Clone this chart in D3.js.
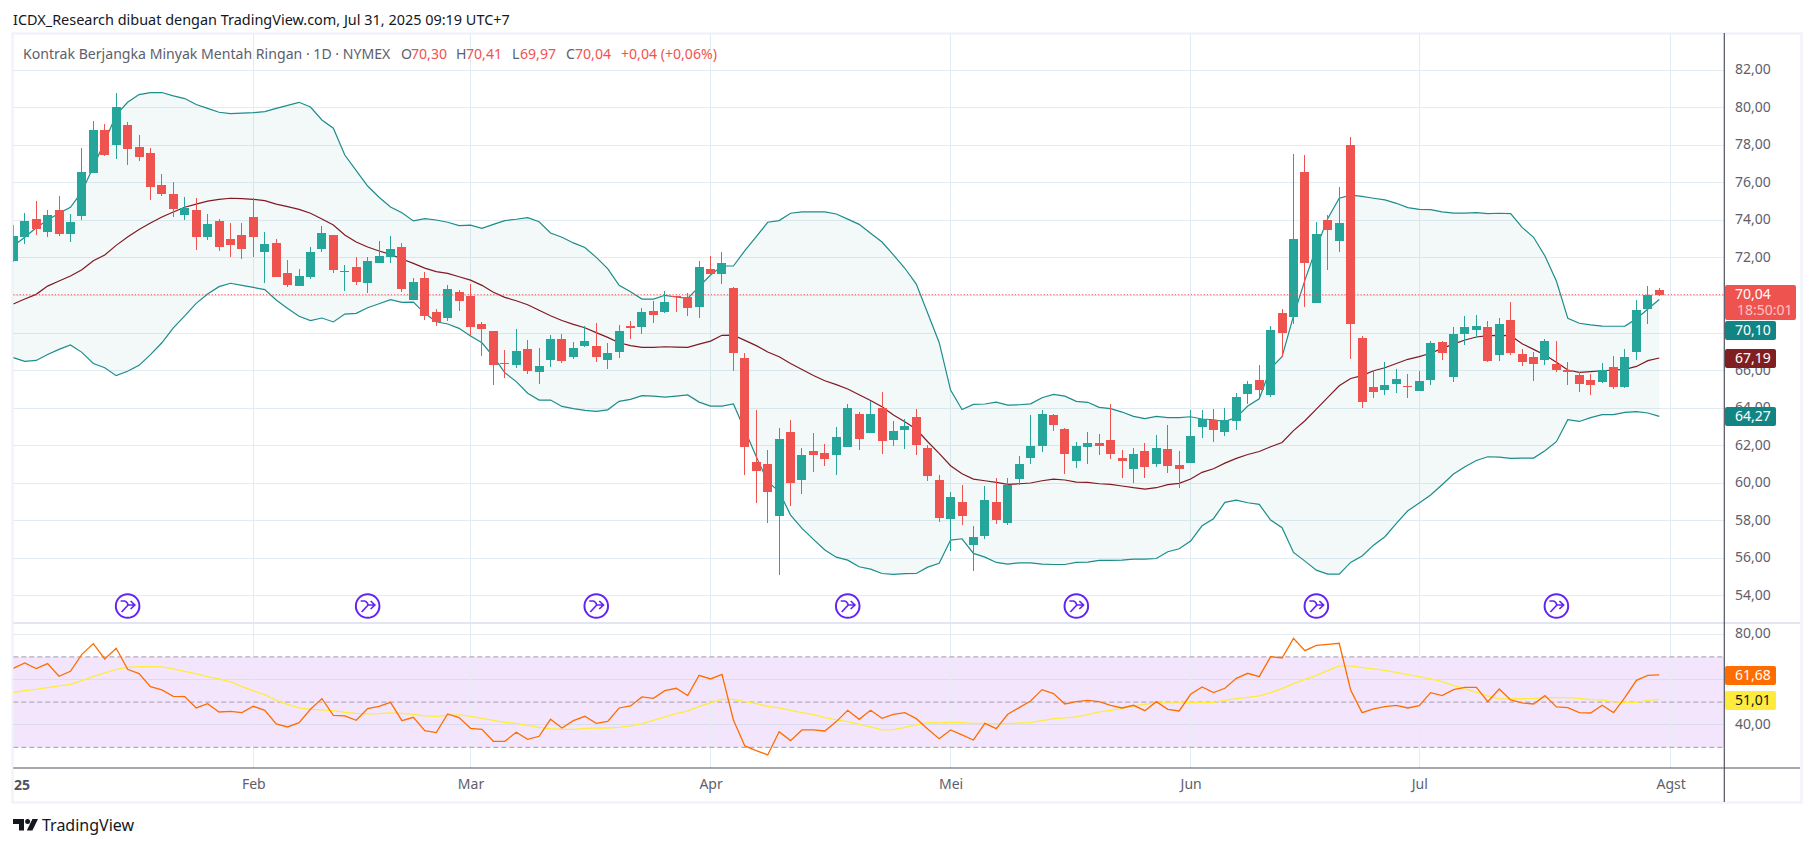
<!DOCTYPE html>
<html><head><meta charset="utf-8">
<script src="https://cdnjs.cloudflare.com/ajax/libs/d3/7.8.5/d3.min.js"></script>
<style>html,body{margin:0;padding:0;background:#fff}svg{display:block}text{font-family:"Noto Sans",sans-serif}</style>
</head><body><svg id="c" width="1814" height="847"></svg>
<script>
const candleOpen=[71.84,73.12,74.07,73.38,74.55,73.28,74.23,76.53,78.82,78.02,79.08,77.91,77.59,75.89,75.41,74.29,74.55,73.12,73.97,73.01,73.22,74.18,72.32,72.80,71.20,70.50,70.98,72.48,73.22,71.25,71.52,70.66,71.73,72.05,72.58,69.76,70.93,69.12,68.80,70.18,69.97,68.48,68.11,66.40,66.30,67.15,65.92,66.56,67.68,66.72,67.31,67.31,66.56,66.99,68.37,68.32,69.17,69.12,69.97,69.92,69.39,71.41,71.14,70.40,66.67,61.13,61.02,58.25,62.72,60.17,61.71,61.61,61.50,61.93,63.68,62.67,64.00,62.30,62.83,63.52,61.87,60.17,58.09,59.00,56.70,57.18,59.00,57.88,60.22,61.34,61.98,63.63,62.88,61.18,61.93,62.14,62.30,61.34,60.75,61.71,61.02,61.82,60.97,61.07,62.99,63.36,62.72,63.31,64.75,65.50,64.70,69.07,68.85,76.58,69.60,74.02,72.90,78.00,67.73,65.12,64.96,65.28,65.18,64.91,65.50,67.52,65.66,67.95,68.16,68.32,66.82,68.69,66.88,66.72,66.56,66.35,66.03,65.76,65.50,65.39,66.19,65.12,66.99,69.28,70.30];
const candleClose=[73.17,73.97,73.54,74.29,73.28,73.91,76.58,78.82,77.48,80.04,77.80,77.38,75.78,75.41,74.61,74.66,73.12,73.81,72.58,72.69,72.48,73.12,72.74,70.98,70.56,71.04,72.32,73.33,71.36,71.30,70.72,71.84,72.10,72.48,70.34,70.72,68.91,68.59,70.34,69.71,68.32,68.21,66.30,66.35,67.04,65.98,66.24,67.68,66.51,67.20,67.57,66.72,66.93,68.11,68.28,69.12,68.96,69.65,69.90,69.33,71.52,71.14,71.73,66.93,61.93,60.65,59.53,62.35,60.01,61.50,61.50,61.29,62.46,64.00,62.35,63.68,62.25,62.78,63.04,62.03,60.38,58.14,59.26,58.25,57.13,59.10,58.04,59.90,61.02,61.98,63.68,63.10,61.55,61.98,62.14,61.98,61.55,61.18,61.55,60.86,61.87,60.91,60.75,62.51,63.42,62.83,63.36,64.59,65.28,64.96,68.16,68.00,73.01,71.75,73.28,73.48,73.86,68.48,64.32,64.86,65.23,65.55,65.12,65.44,67.47,66.93,67.95,68.32,68.37,66.51,68.48,66.93,66.45,66.35,67.57,66.03,65.92,65.28,65.23,66.03,65.12,66.72,69.23,70.02,70.04];
const candleHigh=[73.75,74.38,75.03,74.55,75.30,74.34,77.86,79.30,79.14,80.79,79.24,78.55,77.86,76.47,76.05,75.25,75.19,74.34,74.07,73.86,73.86,75.19,73.38,73.01,71.89,71.41,72.58,73.70,73.22,71.62,72.05,72.05,72.90,73.17,72.80,70.93,71.25,69.28,70.56,70.29,70.61,68.58,68.11,67.09,68.21,67.63,67.20,67.89,67.95,67.52,68.37,68.53,67.47,68.43,68.64,69.33,69.71,70.24,69.97,70.13,71.84,72.10,72.32,70.45,66.93,63.90,61.77,62.94,63.36,61.87,62.67,62.09,62.99,64.21,63.79,64.38,64.86,63.31,63.42,63.95,62.03,60.43,59.53,59.90,57.72,59.85,60.27,60.27,61.45,63.63,63.90,63.68,62.93,62.19,62.72,62.62,64.22,61.77,61.87,62.14,62.56,63.10,61.71,63.90,63.90,63.95,64.00,64.80,65.44,66.29,68.37,69.28,77.55,77.48,73.91,74.29,75.78,78.44,67.84,66.03,66.45,66.08,65.82,65.97,67.57,67.57,68.32,68.91,68.96,68.64,68.80,69.65,67.15,66.99,67.68,67.57,66.45,65.92,65.82,66.40,66.77,67.15,69.76,70.50,70.41];
const candleLow=[71.80,72.74,73.22,73.12,73.17,72.85,74.02,76.50,77.43,77.27,76.95,77.17,75.09,75.30,74.18,74.02,72.42,72.96,72.37,72.05,71.94,72.05,70.66,70.98,70.45,70.50,70.88,72.32,71.20,70.24,70.56,70.13,71.73,71.73,70.18,69.76,68.69,68.37,68.64,69.17,67.84,66.77,65.23,65.60,66.14,65.82,65.28,66.19,66.40,66.62,67.25,66.45,66.08,66.67,67.68,67.95,68.53,69.06,69.12,68.91,68.80,71.14,70.61,65.98,60.43,58.94,57.88,55.10,58.78,59.42,60.59,60.91,60.43,61.93,61.77,62.67,61.55,61.98,61.82,61.50,60.11,57.93,56.38,57.77,55.32,57.02,57.82,57.77,59.90,61.02,61.66,62.78,60.49,60.81,61.02,61.50,61.29,60.27,60.01,60.27,60.86,60.54,59.74,61.07,62.40,62.19,62.51,62.83,64.21,64.59,64.59,66.72,68.48,69.39,69.60,71.36,72.32,66.61,64.00,64.54,64.70,64.80,64.54,64.91,65.23,66.56,65.39,67.36,67.79,66.45,66.51,66.83,66.24,65.44,66.29,65.92,65.23,64.86,64.70,65.34,65.02,65.07,66.56,68.48,69.97];
const bbUpper=[72.64,73.10,73.61,74.02,74.38,74.70,75.53,76.86,78.20,79.62,80.29,80.70,80.81,80.81,80.63,80.49,80.17,79.97,79.76,79.69,79.71,79.74,79.79,79.97,80.13,80.29,80.04,79.35,78.91,77.48,76.65,75.83,75.23,74.71,74.41,73.97,74.09,74.02,73.90,73.72,73.75,73.58,73.79,73.99,74.06,74.15,73.93,73.33,73.10,72.80,72.56,72.03,71.43,70.54,70.20,69.81,69.81,70.01,69.92,69.85,70.47,71.09,71.57,71.57,72.39,73.13,73.90,73.99,74.38,74.45,74.45,74.45,74.34,74.07,73.79,73.31,72.85,72.16,71.45,70.61,69.05,67.50,64.96,63.93,64.20,64.22,64.32,64.16,64.18,64.23,64.55,64.73,64.64,64.36,64.31,64.04,63.97,63.79,63.56,63.44,63.56,63.49,63.49,63.54,63.42,63.38,63.28,63.51,64.11,64.50,66.12,66.74,68.91,70.82,72.55,74.10,75.18,75.35,75.28,75.18,75.09,74.91,74.68,74.59,74.57,74.45,74.39,74.39,74.41,74.36,74.38,74.36,73.63,73.10,72.10,70.77,68.78,68.52,68.43,68.37,68.36,68.37,68.76,69.28,69.79];
const bbBasis=[69.55,69.81,70.06,70.50,70.77,71.04,71.37,71.85,72.16,72.67,73.12,73.52,73.86,74.18,74.45,74.70,74.87,75.03,75.12,75.18,75.16,75.12,75.05,74.87,74.73,74.59,74.38,74.07,73.75,73.22,72.85,72.58,72.37,72.19,71.94,71.71,71.46,71.27,71.18,71.00,70.82,70.54,70.17,69.90,69.72,69.51,69.21,68.92,68.67,68.46,68.28,68.02,67.77,67.48,67.33,67.24,67.24,67.27,67.25,67.24,67.41,67.57,67.88,67.89,67.61,67.33,66.99,66.74,66.38,66.06,65.74,65.46,65.25,65.02,64.71,64.41,64.07,63.63,63.28,62.87,62.21,61.59,60.93,60.50,60.22,60.13,60.04,59.94,59.97,60.01,60.13,60.22,60.17,60.06,60.04,59.97,59.94,59.85,59.76,59.69,59.76,59.92,59.99,60.22,60.58,60.77,61.07,61.32,61.53,61.69,61.94,62.17,62.80,63.33,63.95,64.57,65.19,65.58,65.73,65.99,66.15,66.38,66.60,66.74,66.92,67.18,67.41,67.63,67.79,67.86,67.88,67.86,67.43,67.13,66.83,66.44,66.03,65.90,65.94,65.99,66.03,66.06,66.22,66.53,66.67];
const bbLower=[66.69,66.49,66.54,66.86,67.13,67.36,66.97,66.38,66.15,65.73,65.96,66.28,66.85,67.48,68.27,68.91,69.58,70.08,70.47,70.65,70.54,70.43,70.31,69.76,69.31,68.89,68.66,68.80,68.59,69.01,69.05,69.35,69.56,69.78,69.63,69.65,69.05,68.60,68.48,68.25,67.84,67.48,66.74,65.89,65.41,64.79,64.43,64.43,64.09,63.97,63.88,63.83,63.91,64.36,64.47,64.66,64.64,64.59,64.64,64.70,64.32,64.11,64.11,64.22,62.83,61.41,60.08,59.55,58.30,57.59,57.01,56.44,56.06,55.90,55.55,55.42,55.19,55.14,55.18,55.19,55.53,55.73,56.97,57.04,56.26,56.06,55.78,55.69,55.76,55.76,55.69,55.67,55.67,55.78,55.80,55.89,55.89,55.90,55.96,55.96,55.99,56.35,56.51,56.92,57.73,58.11,58.98,59.10,58.96,58.87,58.04,57.63,56.31,55.85,55.37,55.16,55.16,55.78,56.12,56.70,57.15,57.86,58.53,58.94,59.37,59.92,60.49,60.88,61.21,61.41,61.39,61.32,61.34,61.34,61.73,62.21,63.38,63.29,63.49,63.65,63.65,63.77,63.81,63.74,63.56];
const rsiValues=[64.96,67.32,64.81,67.02,61.42,63.63,71.15,75.87,69.09,73.81,64.51,62.60,56.84,55.37,52.57,52.42,47.40,49.32,45.63,45.93,45.34,48.14,46.37,40.32,39.00,40.91,46.81,51.53,44.16,43.86,41.95,47.11,48.14,49.91,41.80,43.27,37.37,36.49,44.75,43.13,38.41,37.96,32.65,32.65,36.64,33.54,34.87,42.39,38.55,41.80,43.72,40.62,41.50,47.40,48.29,52.27,51.68,55.07,56.11,52.86,61.86,60.24,62.30,42.09,30.59,28.53,26.61,36.93,32.95,37.67,37.67,37.23,41.36,46.37,42.39,46.37,42.83,44.60,45.34,42.68,38.11,33.83,37.67,35.46,33.24,40.62,38.26,44.60,47.55,50.50,55.52,53.75,49.17,50.21,50.80,50.21,48.58,47.40,48.58,46.22,50.21,46.81,46.08,53.45,56.70,54.19,56.11,60.53,62.74,61.27,70.12,69.53,78.23,72.77,75.13,75.58,76.02,55.37,45.34,46.96,47.99,48.58,47.40,48.44,54.19,52.86,55.52,56.55,56.55,50.21,55.81,50.94,49.62,49.17,52.86,47.85,47.55,45.34,45.19,48.58,45.34,52.12,59.65,61.86,62.01];
const rsiMA=[54.19,55.07,55.66,56.40,57.14,57.88,59.50,61.42,62.89,64.51,65.40,65.69,65.69,65.55,64.66,63.63,62.45,61.27,60.24,58.91,56.84,54.93,53.30,50.80,49.03,47.40,46.81,46.52,46.22,45.49,45.04,44.75,44.90,45.19,45.04,44.60,43.86,43.72,44.16,44.31,43.72,42.83,41.95,41.06,40.62,39.73,38.85,38.26,37.96,37.96,38.41,38.55,38.55,38.85,39.44,40.47,41.95,43.42,44.90,46.08,48.14,49.62,51.24,51.24,50.21,49.32,48.14,47.40,46.37,45.34,44.45,43.13,42.09,41.36,40.18,39.00,37.67,37.82,38.85,39.88,40.91,40.77,41.06,40.91,40.62,40.62,40.47,40.47,40.77,40.91,41.80,42.68,42.98,43.42,44.45,45.63,46.37,47.26,48.29,49.03,49.76,49.62,49.62,49.91,49.76,49.91,50.80,51.53,52.12,52.71,54.19,55.96,58.17,60.09,61.86,63.92,65.99,65.99,65.25,64.66,64.07,63.19,62.15,61.27,60.24,59.06,57.43,55.96,54.34,52.71,51.39,51.39,51.53,51.68,51.98,51.98,51.98,51.68,51.09,50.94,50.06,49.76,49.91,50.80,51.24];
const priceTicks=[54,56,58,60,62,64,66,68,70,72,74,76,78,80,82];
const priceLabelTicks=[54,56,58,60,62,64,66,72,74,76,78,80,82];
const rsiTicks=[40,80];
const rsiGrid=[40,60,80];
const rsiDashed=[30,50,70];
const monthIndex=[21,40,61,82,103,123,145];
const monthLabels=["Feb","Mar","Apr","Mei","Jun","Jul","Agst"];
const dividendIndex=[10,31,51,73,93,114,135];
const lastClose=70.04;

const W=1814,H=847,L=13.3,R=1724.3,T=33,Sep=623,B=768;
const svg=d3.select("#c");
const x=d3.scaleLinear().domain([0,145]).range([13.3,1670.7]);
const y=d3.scaleLinear().domain([78,56]).range([145.3,558.3]);
const yr=d3.scaleLinear().domain([80,30]).range([634.3,747.3]);
const fmt=v=>d3.format(".2f")(v).replace(".",",");
const idx=d3.range(candleOpen.length);
const UP="#26a69a",DN="#ef5350",BB="#1b8d8a",GRID="#e3ecf2",AX="#50535e",TXT="#5d606b";

const defs=svg.append("defs");
defs.append("clipPath").attr("id","pc").append("rect").attr("x",L).attr("y",T).attr("width",R-L).attr("height",Sep-T);
defs.append("clipPath").attr("id","rc").append("rect").attr("x",L).attr("y",Sep).attr("width",R-L).attr("height",B-Sep);

svg.append("rect").attr("x",12.5).attr("y",33.5).attr("width",1789).attr("height",769).attr("fill","none").attr("stroke","#f0f3fa").attr("stroke-width",2.4);

// RSI backdrop
svg.append("rect").attr("x",L).attr("width",R-L).attr("y",yr(70)).attr("height",yr(30)-yr(70)).attr("fill","#f3e6fc");

// grid
const g=svg.append("g").attr("stroke",GRID).attr("stroke-width",1).attr("shape-rendering","crispEdges");
g.selectAll(".h").data(priceTicks).join("line").attr("x1",L).attr("x2",R).attr("y1",d=>y(d)).attr("y2",d=>y(d));
g.selectAll(".r").data(rsiGrid).join("line").attr("x1",L).attr("x2",R).attr("y1",d=>yr(d)).attr("y2",d=>yr(d)).attr("stroke",d=>d===80?GRID:"#dcdcf0");
g.selectAll(".v").data(monthIndex).join("line").attr("y1",T).attr("y2",B).attr("x1",d=>x(d)).attr("x2",d=>x(d));

// separator
svg.append("line").attr("x1",L).attr("x2",1800).attr("y1",Sep).attr("y2",Sep).attr("stroke","#e3e6ee").attr("stroke-width",2);

// Bollinger
const p=svg.append("g").attr("clip-path","url(#pc)");
p.append("path").datum(idx).attr("fill","#1b8d8a").attr("fill-opacity",.05)
 .attr("d",d3.area().x(i=>x(i)).y0(i=>y(bbLower[i])).y1(i=>y(bbUpper[i])));
const ln=a=>d3.line().x(i=>x(i)).y(i=>y(a[i]));
[[bbUpper,BB],[bbLower,BB],[bbBasis,"#801922"]].forEach(([a,c])=>{
  p.append("path").datum(idx).attr("fill","none").attr("stroke",c).attr("stroke-width",1.2).attr("d",ln(a));
});

// last price line
svg.append("line").attr("x1",L).attr("x2",R).attr("y1",y(lastClose)).attr("y2",y(lastClose)).attr("stroke",DN).attr("stroke-width",1).attr("stroke-dasharray","1.2 2");

// candles
const col=i=>candleClose[i]>=candleOpen[i]?UP:DN;
const cg=p.append("g").attr("shape-rendering","crispEdges");
cg.selectAll(".w").data(idx).join("line").attr("x1",i=>x(i)).attr("x2",i=>x(i))
  .attr("y1",i=>y(candleHigh[i])).attr("y2",i=>y(candleLow[i])).attr("stroke",col).attr("stroke-width",1);
cg.selectAll(".b").data(idx).join("rect").attr("x",i=>x(i)-4.5).attr("width",9)
  .attr("y",i=>y(Math.max(candleOpen[i],candleClose[i])))
  .attr("height",i=>Math.max(1,Math.abs(y(candleOpen[i])-y(candleClose[i])))).attr("fill",col);

// markers
const mk=svg.append("g").selectAll("g").data(dividendIndex).join("g").attr("transform",d=>`translate(${x(d)},606)`);
mk.append("circle").attr("r",11.8).attr("fill","#fff").attr("stroke","#6423f5").attr("stroke-width",2);
mk.append("path").attr("fill","none").attr("stroke","#6423f5").attr("stroke-width",1.7)
  .attr("d","M-7 -5 L-3 -5 Q-0.5 -4.5 0.5 -1 H7 M3 -5 L7.2 -1 L3 3 M-6 6 L0.5 -1");

// RSI
const r=svg.append("g").attr("clip-path","url(#rc)");
r.selectAll(".d").data(rsiDashed).join("line").attr("x1",L).attr("x2",R).attr("y1",d=>yr(d)).attr("y2",d=>yr(d))
 .attr("stroke","#a59aae").attr("stroke-dasharray","5 3").attr("stroke-width",1);
r.append("path").datum(idx).attr("fill","none").attr("stroke","#ffeb3b").attr("stroke-width",1.3).attr("d",d3.line().x(i=>x(i)).y(i=>yr(rsiMA[i])));
r.append("path").datum(idx).attr("fill","none").attr("stroke","#ff6d00").attr("stroke-width",1.3).attr("d",d3.line().x(i=>x(i)).y(i=>yr(rsiValues[i])));

// axes frame
svg.append("line").attr("x1",R).attr("x2",R).attr("y1",T).attr("y2",802).attr("stroke",AX).attr("stroke-width",1.2);
svg.append("line").attr("x1",L).attr("x2",1800).attr("y1",B).attr("y2",B).attr("stroke",AX).attr("stroke-width",1.2);

// axis labels via d3 axes
const styleAxis=s=>{s.select(".domain").remove();s.selectAll(".tick line").remove();s.selectAll("text").attr("fill",TXT).style("font-size","14px");};
svg.append("g").attr("transform","translate(1726,-1)").call(d3.axisRight(y).tickValues(priceLabelTicks).tickFormat(fmt).tickSize(0).tickPadding(9)).call(styleAxis);
svg.append("g").attr("transform","translate(1726,-1)").call(d3.axisRight(yr).tickValues(rsiTicks).tickFormat(fmt).tickSize(0).tickPadding(9)).call(styleAxis);
svg.append("g").attr("transform","translate(0,776)").call(d3.axisBottom(x).tickValues(monthIndex).tickFormat((d,i)=>monthLabels[i]).tickSize(0).tickPadding(3)).call(styleAxis);
svg.append("text").attr("x",14).attr("y",790).attr("fill",AX).attr("font-size",14).attr("font-weight",700).text("25");

// badges
const badges=[[1725,285,71,35,DN],[1725,321,51,19,"#138484"],[1725,349,51,19,"#801f22"],[1725,407,51,19,"#138484"],[1725,666,51,19,"#ff6d00"],[1725,691,51,19,"#ffeb3b"]];
svg.append("g").selectAll("rect").data(badges).join("rect").attr("x",d=>d[0]).attr("y",d=>d[1]).attr("width",d=>d[2]).attr("height",d=>d[3]).attr("rx",2).attr("fill",d=>d[4]);
const bt=[["70,04",1735,299,"#fff"],["18:50:01",1737,315,"#fbc4c2"],["70,10",1735,335,"#fff"],["67,19",1735,363,"#fff"],["64,27",1735,421,"#fff"],["61,68",1735,680,"#fff"],["51,01",1735,705,"#131722"]];
svg.append("g").selectAll("text").data(bt).join("text").attr("x",d=>d[1]).attr("y",d=>d[2]).attr("fill",d=>d[3]).attr("font-size",14).text(d=>d[0]);

// header texts
svg.append("text").attr("x",13).attr("y",25).attr("fill","#131722").attr("font-size",14.45).text("ICDX_Research dibuat dengan TradingView.com, Jul 31, 2025 09:19 UTC+7");
const hdr=[["Kontrak Berjangka Minyak Mentah Ringan · 1D · NYMEX",23,TXT],["O",401,TXT],["70,30",411,DN],["H",456,TXT],["70,41",466,DN],["L",512,TXT],["69,97",520,DN],["C",566,TXT],["70,04",575,DN],["+0,04 (+0,06%)",621,DN]];
svg.append("g").selectAll("text").data(hdr).join("text").attr("x",d=>d[1]).attr("y",59).attr("fill",d=>d[2]).attr("font-size",14.1).text(d=>d[0]);

// logo
const lg=svg.append("g").attr("fill","#131722");
lg.append("path").attr("d","M13 819h11v11.5h-5v-6.5h-6z");
lg.append("circle").attr("cx",27.6).attr("cy",821.6).attr("r",2.5);
lg.append("path").attr("d","M38 819l-5.6 11.5h-5.6l5.6-11.5z");
svg.append("text").attr("x",42).attr("y",831).attr("fill","#131722").attr("font-size",16).text("TradingView");
</script></body></html>
